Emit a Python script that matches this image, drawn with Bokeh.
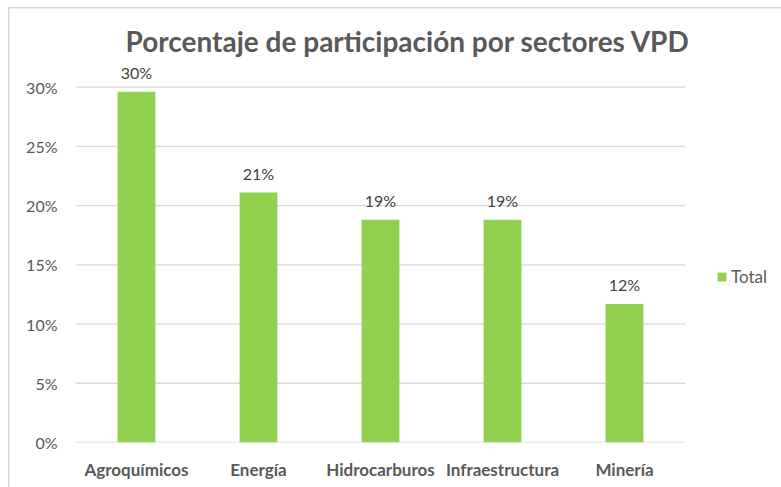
from bokeh.plotting import figure
from bokeh.models import ColumnDataSource, NumeralTickFormatter, FixedTicker, Legend, LegendItem, Range1d
from bokeh.core.properties import value
from bokeh.embed import file_html
from bokeh.resources import INLINE

categories = ["Agroquímicos", "Energía", "Hidrocarburos", "Infraestructura", "Minería"]
values = [0.296, 0.211, 0.188, 0.188, 0.117]
labels = [f"{round(v * 100)}%" for v in values]
y_ticks = [0.0, 0.05, 0.10, 0.15, 0.20, 0.25, 0.30]

FONT = "Lato"
GREEN = "#92D050"
GREY_TEXT = "#595959"
GRID = "#d9d9d9"

n = len(categories)
xs = list(range(n))
source = ColumnDataSource(dict(x=xs, cat=categories, val=values, lab=labels))
grid_src = ColumnDataSource(dict(y=y_ticks, x0=[-0.5] * len(y_ticks), x1=[n - 0.5] * len(y_ticks)))

p = figure(
    x_range=Range1d(-0.5, 5.287),
    y_range=Range1d(0, 0.325),
    width=781, height=487,
    output_backend="svg", toolbar_location=None,
    min_border_left=75, min_border_right=0, min_border_top=57, min_border_bottom=45,
    title="Porcentaje de participación por sectores VPD",
)
# light chart-area frame on the left and top edges
p.styles = {
    "background": "linear-gradient(#d9d9d9, #d9d9d9) 8px 7px / 1.5px 100% no-repeat, "
                  "linear-gradient(#d9d9d9, #d9d9d9) 8px 7px / 100% 1.5px no-repeat, white",
}

p.segment(x0="x0", x1="x1", y0="y", y1="y", source=grid_src, line_color=GRID, line_width=1.3)
r = p.vbar(x="x", top="val", width=0.31, source=source, color=GREEN, line_color=None)
p.text(x="x", y="val", text="lab", source=source, text_align="center",
       text_baseline="bottom", y_offset=-10, text_font=value(FONT),
       text_font_size="16px", text_color="#404040")

p.title.text_font = FONT
p.title.text_font_size = "28px"
p.title.text_font_style = "bold"
p.title.text_color = GREY_TEXT
p.title.align = "left"
p.title.offset = 50
p.title.standoff = 0

p.outline_line_color = None
p.background_fill_color = "white"
p.border_fill_alpha = 0

p.xgrid.grid_line_color = None
p.ygrid.grid_line_color = None
p.yaxis.ticker = FixedTicker(ticks=y_ticks)
p.yaxis.formatter = NumeralTickFormatter(format="0%")
p.yaxis.axis_line_color = None
p.yaxis.major_tick_line_color = None
p.yaxis.minor_tick_line_color = None
p.yaxis.major_label_text_font = FONT
p.yaxis.major_label_text_font_size = "16px"
p.yaxis.major_label_text_color = GREY_TEXT
p.yaxis.major_label_standoff = 12

p.xaxis.ticker = FixedTicker(ticks=xs)
p.xaxis.major_label_overrides = {i: c for i, c in zip(xs, categories)}
p.xaxis.axis_line_color = None
p.xaxis.major_tick_line_color = None
p.xaxis.minor_tick_line_color = None
p.xaxis.major_label_text_font = FONT
p.xaxis.major_label_text_font_size = "17px"
p.xaxis.major_label_text_font_style = "bold"
p.xaxis.major_label_text_color = GREY_TEXT
p.xaxis.major_label_standoff = 10

legend = Legend(items=[LegendItem(label="Total", renderers=[r])],
                location=(641, 155), border_line_color=None, background_fill_alpha=0,
                label_text_font=FONT, label_text_font_size="17px",
                label_text_color=GREY_TEXT, glyph_width=11, glyph_height=11,
                label_standoff=4, margin=0, padding=5)
p.add_layout(legend, "center")

open("out.html", "w").write(file_html(p, INLINE))
